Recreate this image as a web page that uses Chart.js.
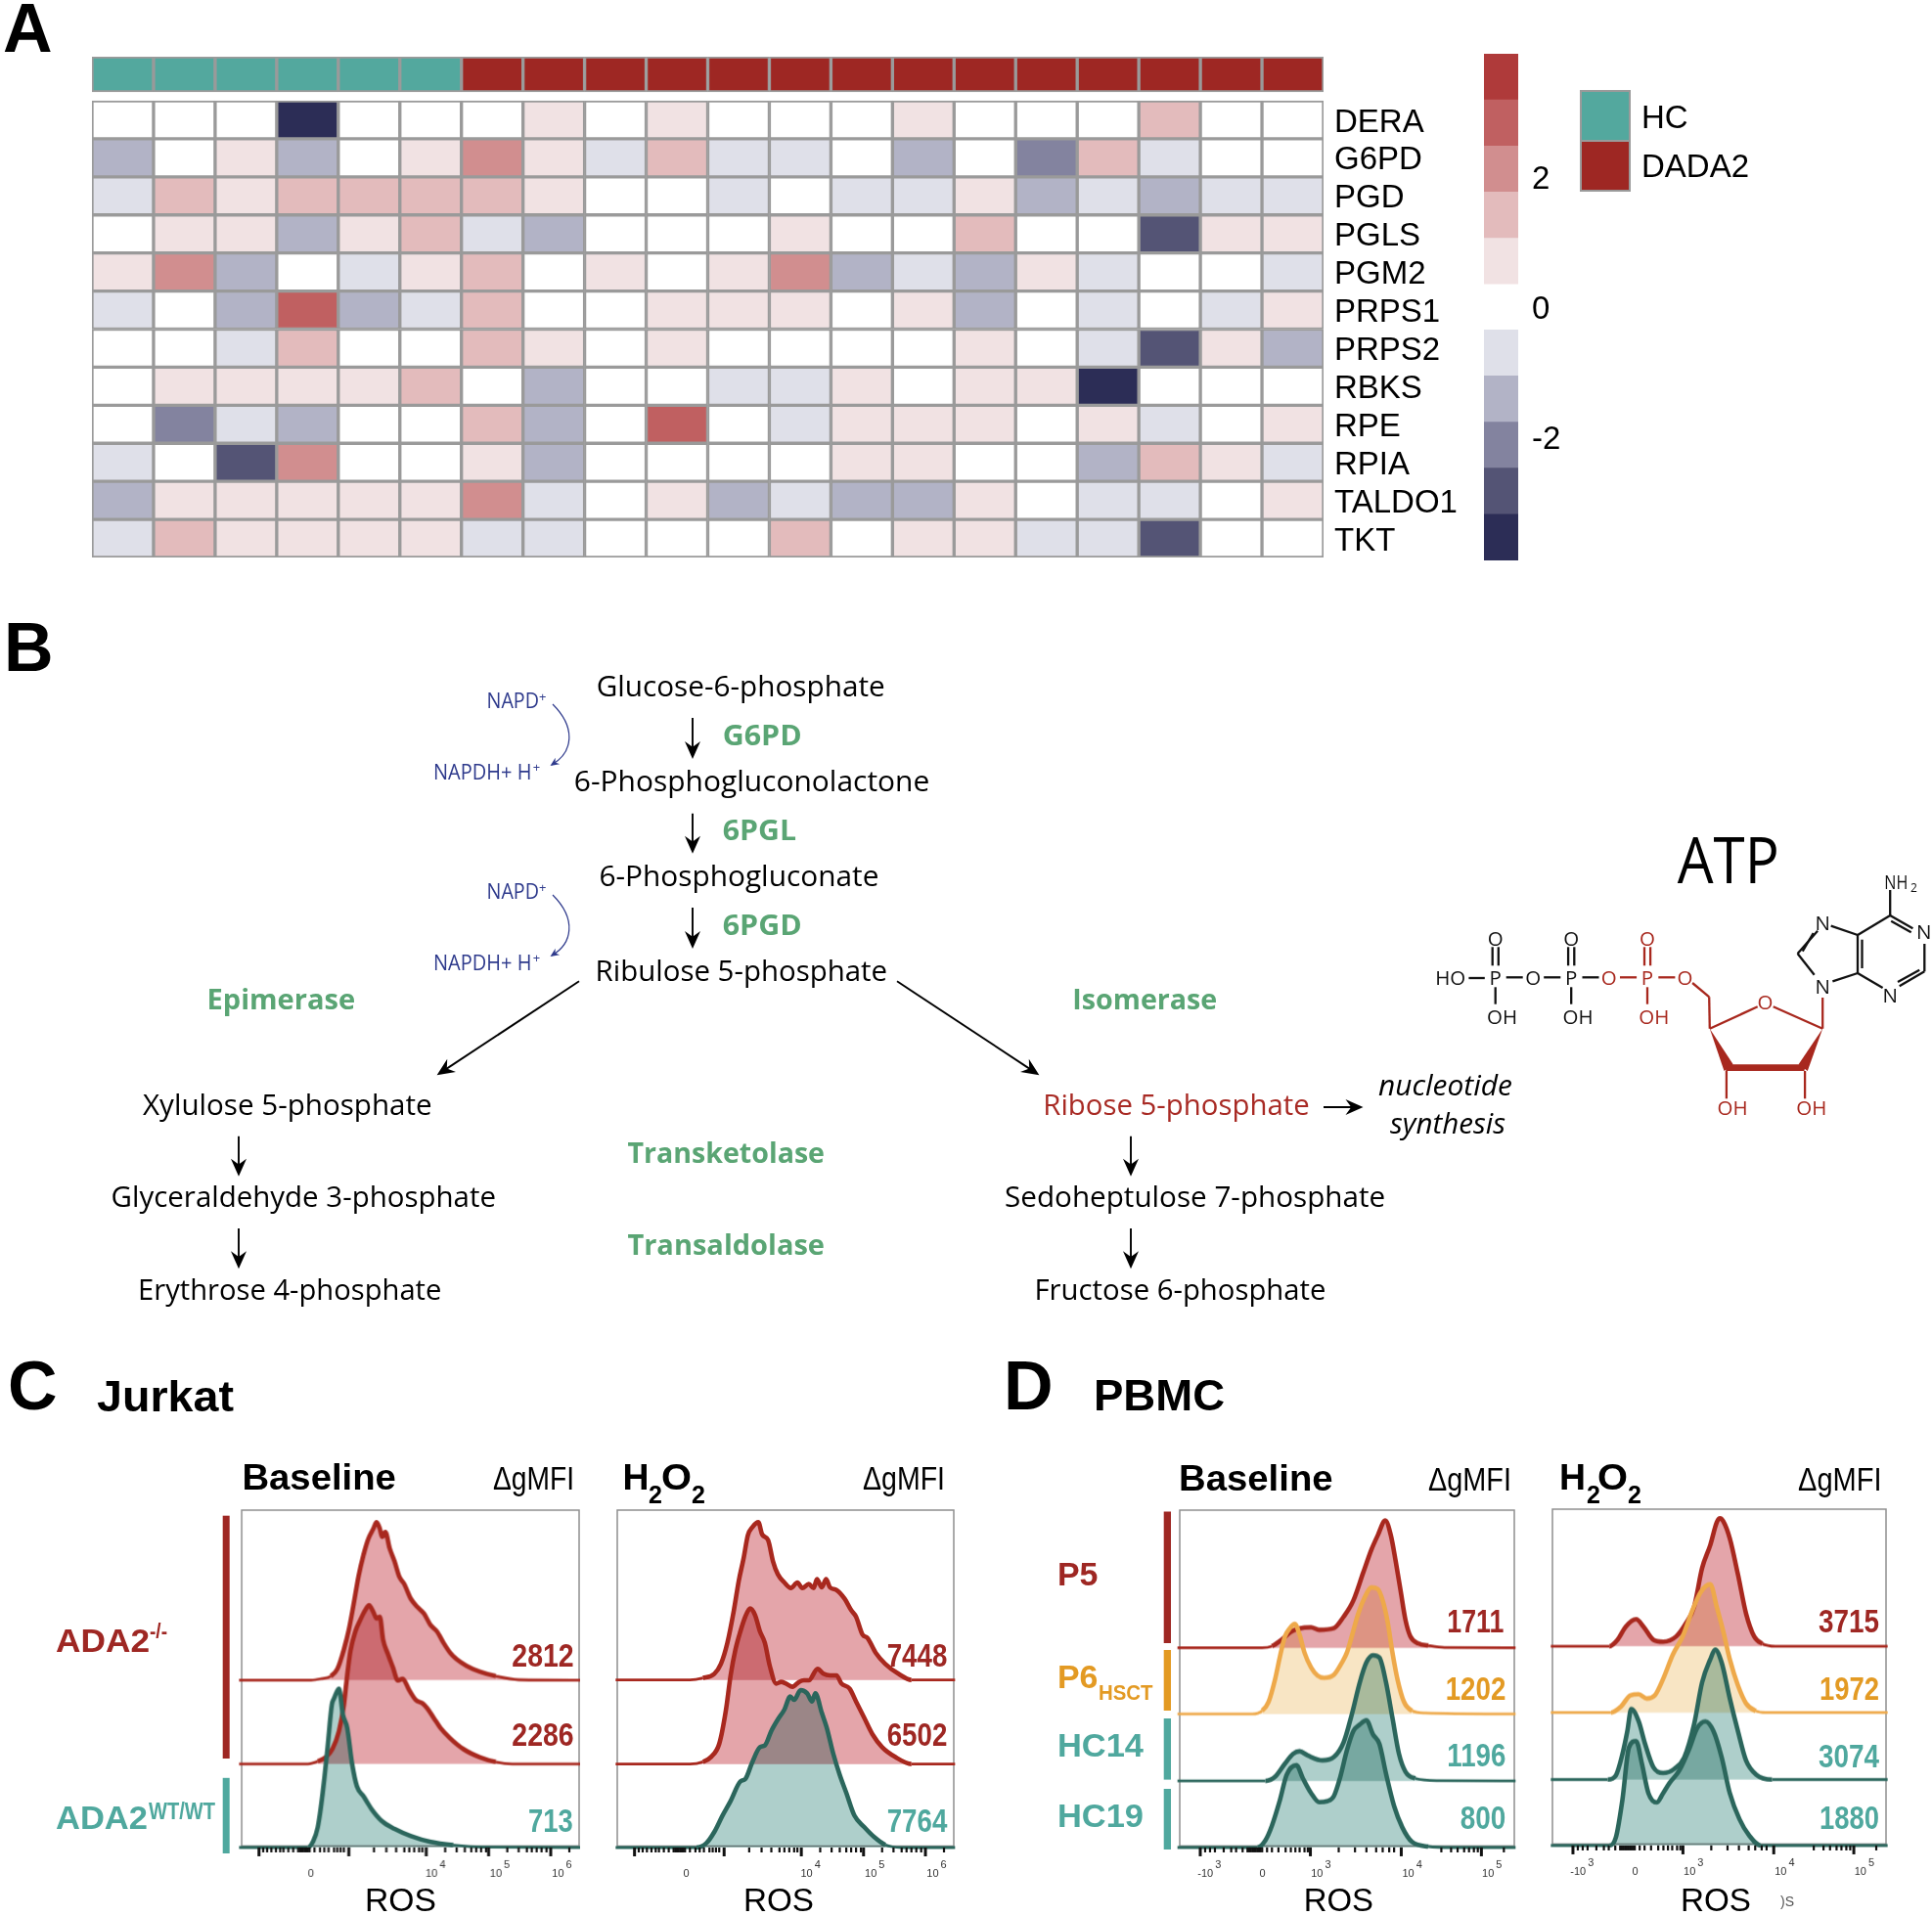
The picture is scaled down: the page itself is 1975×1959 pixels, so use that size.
<!DOCTYPE html>
<html>
<head>
<meta charset="utf-8">
<title>Pentose phosphate pathway in DADA2</title>
<script src="https://cdn.jsdelivr.net/npm/chart.js@4/dist/chart.umd.min.js"></script>
<style>
  html, body { margin:0; padding:0; background:#fff; }
  #page { position:relative; width:1975px; height:1959px; overflow:hidden; background:#fff; }
  #page canvas { position:absolute; }
  #overlay { position:absolute; left:0; top:0; pointer-events:none; }
</style>
</head>
<body>
<div id="page">
  <svg id="overlay" width="1975" height="1959" viewBox="0 0 1975 1959"></svg>
</div>
<script>
// Panel A: heatmap
const genes = ['DERA','G6PD','PGD','PGLS','PGM2','PRPS1','PRPS2','RBKS','RPE','RPIA','TALDO1','TKT'];
const samples = ['HC','HC','HC','HC','HC','HC','DADA2','DADA2','DADA2','DADA2','DADA2','DADA2','DADA2','DADA2','DADA2','DADA2','DADA2','DADA2','DADA2','DADA2'];
const rowDERA   = [ 0, 0, 0,-5, 0, 0, 0, 1, 0, 1, 0, 0, 0, 1, 0, 0, 0, 2, 0, 0];
const rowG6PD   = [-2, 0, 1,-2, 0, 1, 3, 1,-1, 2,-1,-1, 0,-2, 0,-3, 2,-1, 0, 0];
const rowPGD    = [-1, 2, 1, 2, 2, 2, 2, 1, 0, 0,-1, 0,-1,-1, 1,-2,-1,-2,-1,-1];
const rowPGLS   = [ 0, 1, 1,-2, 1, 2,-1,-2, 0, 0, 0, 1, 0, 0, 2, 0, 0,-4, 1, 1];
const rowPGM2   = [ 1, 3,-2, 0,-1, 1, 2, 0, 1, 0, 1, 3,-2,-1,-2, 1,-1, 0, 0,-1];
const rowPRPS1  = [-1, 0,-2, 4,-2,-1, 2, 0, 0, 1, 1, 1, 0, 1,-2, 0,-1, 0,-1, 1];
const rowPRPS2  = [ 0, 0,-1, 2, 0, 0, 2, 1, 0, 1, 0, 0, 0, 0, 1, 0,-1,-4, 1,-2];
const rowRBKS   = [ 0, 1, 1, 1, 1, 2, 0,-2, 0, 0,-1,-1, 1, 0, 1, 1,-5, 0, 0, 0];
const rowRPE    = [ 0,-3,-1,-2, 0, 0, 2,-2, 0, 4, 0,-1, 1, 1, 1, 0, 1,-1, 0, 1];
const rowRPIA   = [-1, 0,-4, 3, 0, 0, 1,-2, 0, 0, 0, 0, 1, 1, 0, 0,-2, 2, 1,-1];
const rowTALDO1 = [-2, 1, 1, 1, 1, 1, 3,-1, 0, 1,-2,-1,-2,-2, 1, 0,-1,-1, 0, 1];
const rowTKT    = [-1, 2, 1, 1, 1, 1,-1,-1, 0, 0, 0, 2, 0, 1, 1,-1,-1,-4, 0, 0];
const heatRows = [rowDERA,rowG6PD,rowPGD,rowPGLS,rowPGM2,rowPRPS1,rowPRPS2,rowRBKS,rowRPE,rowRPIA,rowTALDO1,rowTKT];
// bins from -5 (darkest blue) to +5 (darkest red)
const levelColors = ['#2C2D56','#545475','#83839F','#B2B3C6','#DFE0E9','#FFFFFF','#F1E2E3','#E3BBBC','#D18E8F','#C06061','#AF3A3A'];
const colorBreaks = [-3.9,-3.19,-2.48,-1.77,-1.06,-0.35,0.35,1.06,1.77,2.48,3.19,3.9];
const colorTicks = [-2,0,2];

// Panels C and D: histograms. X = display channel, Y = percent of mode
const cBase2812X = [14,235,265,295,315,335,350,365,380,395,410,425,435,445,452,462,475,490,505,520,540,560,580,600,620,640,660,680,710,750,800,870,1058];
const cBase2812Y = [0,0,0.8,2.4,6.8,18.8,30.8,46.8,63.8,76.8,86.8,92.8,96.8,92.8,87.8,90.8,80.8,72.8,63.2,58.8,49.8,44.8,40.8,33.8,29.8,22.8,16.8,12.8,8.8,5.2,2.4,0.2,0];
const cBase2286X = [14,225,255,280,300,320,335,345,355,370,385,400,412,425,435,445,455,470,485,500,515,535,555,575,590,610,630,660,700,750,800,850,1058];
const cBase2286Y = [0,0,1.6,4.2,9.2,20.2,36.2,54.2,69.2,81.2,88.2,94.2,97.2,93.2,89.2,90.2,76.2,67.2,59.2,51.2,52.2,45.2,39.2,37.2,34.2,28.2,22.2,15.8,9.2,4.2,1.2,0,0];
const cBase713X  = [14,225,240,255,270,285,298,305,320,332,345,360,375,395,420,450,490,540,600,670,760,1058];
const cBase713Y  = [0,0,3.4,12.4,33.4,61.4,87.4,91.4,97.4,81.4,73.4,51.4,37.4,31.4,23.4,16.4,11.4,7,3.4,1.4,0.2,0];

const cH2o27448X = [12,240,280,315,335,355,375,390,405,418,432,450,462,480,495,510,530,550,570,585,605,620,630,645,658,670,690,715,735,750,770,785,810,840,880,920,1054];
const cH2o27448Y = [0,0,1.2,3.8,9.8,22.8,42.8,60.8,74.8,88.8,93.8,96.8,89.2,85.8,72.8,64.8,59.8,56.4,59.8,56.4,58.8,56.4,61.8,56.8,61.8,56.8,55.2,49.8,42.8,38.8,27.8,25.8,16.8,9.8,3.8,0,0];
const cH2o26502X = [12,240,280,305,330,350,365,380,395,410,425,440,455,470,485,505,520,535,555,575,590,605,632,650,670,690,705,730,750,775,800,830,870,920,1054];
const cH2o26502Y = [0,0,1.4,4.4,12.4,32.4,54.4,70.4,81.4,90.4,95.4,91.4,81.4,74.4,60.4,49.4,50.4,49.4,47.4,50.4,51.4,51.4,58.4,55.4,54.4,54.4,49.4,46.4,38.4,28.4,18.4,10.4,4.4,0,0];
const cH2o27764X = [12,260,290,315,340,365,395,410,430,455,470,490,510,530,548,560,580,600,615,625,645,660,680,700,720,745,775,805,840,890,1054];
const cH2o27764Y = [0,0,2.6,9.6,19.6,28.6,40.6,42,51.6,61.6,62.6,71.6,78.6,84.6,92.6,90.6,96.6,94.6,89.6,94.6,82.6,73.6,57.6,44.6,33.6,19.6,12.6,6.6,1.6,0,0];

const dBase1711X = [10,270,300,330,360,400,420,445,490,520,550,580,605,625,648,665,680,695,710,725,750,780,830,1048];
const dBase1711Y = [0,0,1,5,10,12.4,12.6,11,12,19,29,46,60,69,78,69,53,35,17,7,2.6,1.4,0.2,0];
const dBase1202X = [10,240,270,290,310,325,340,355,370,385,400,420,440,460,490,515,530,545,565,585,605,625,640,655,670,685,705,730,770,1048];
const dBase1202Y = [0,0,2,7.6,21.6,35.6,47.6,52.6,55.2,48.6,37.6,28.6,23.6,22.2,24,31.6,37.6,47.6,61.6,71.6,77.6,76.6,69.6,56.6,37.6,21.6,7.6,2,0.6,0];
const dBase1196X = [10,280,310,340,365,385,410,455,490,520,545,570,590,610,630,650,670,690,710,740,810,1048];
const dBase1196Y = [0,0,2.6,10.6,16.6,18.2,15.6,12.6,14.6,23.6,40.6,60.6,72.6,77,75.6,60.6,38.6,16.6,5.6,1.6,0.2,0];
const dBase800X  = [10,255,280,300,325,345,375,395,420,445,470,490,510,530,550,570,590,610,630,650,675,700,730,780,850,1048];
const dBase800Y  = [0,0,4.4,13.4,29.4,44.4,50.4,42.4,33.4,27.8,28.4,31.4,43.4,59.4,71.4,75.4,78,69.4,63.4,45.4,25.4,12.4,3.4,0.6,0,0];

const dH2o23715X = [0,180,205,230,262,285,315,345,385,415,440,465,490,510,520,530,550,575,600,625,650,690,1035];
const dH2o23715Y = [0,0,4,12,16.6,12,4,2.8,6,14,24,48,62,76,78.4,76.5,66,44,20,6,1.6,0,0];
const dH2o21972X = [0,185,215,245,270,295,320,345,375,405,435,460,490,510,530,550,575,600,630,660,1035];
const dH2o21972Y = [0,0,3.6,10.6,11.2,8.6,10.6,20.6,35.6,46.6,62.6,73.6,78.6,64.6,49.6,32.6,16.6,5.6,1,0,0];
const dH2o23074X = [0,175,200,220,235,247,270,290,315,345,380,410,440,465,490,505,525,550,575,600,630,680,1035];
const dH2o23074Y = [0,0,2.6,15.6,29.6,43.2,35.6,21.6,7.6,4,6.6,13.6,33.6,59.6,73.6,79.6,71.6,49.6,29.6,11.6,3.2,0,0];
const dH2o21880X = [0,180,200,220,240,262,280,300,325,345,365,395,425,450,475,500,525,550,580,610,645,1035];
const dH2o21880Y = [0,0,5,28,60,64,50,32,26.4,32,38.4,46,59,72,76,70,54,32,16,6,0,0];

// Axis ticks, in the same display channels
const jurkatMajorTicks = [75,350,587,778,968];
const jurkatMinorTicks = [88,100,113,127,140,150,165,180,195,200,205,210,215,220,225,230,245,262,275,288,305,315,325,335,427,465,495,520,535,550,565,575,645,680,705,725,740,755,770,835,870,895,910,925,940,955,1025];
const jurkatLabelAt = [225,585,782,972];
const jurkatLabels = ['0','10','10','10'];
const jurkatExps = ['','4','5','6'];
const pbmcMajorTicks = [80,418,697,943];
const pbmcMinorTicks = [95,110,125,152,175,190,210,225,230,235,240,245,250,255,260,265,270,285,300,320,342,358,372,385,400,410,505,555,590,620,640,660,675,820,850,870,890,905,920,932,1012];
const pbmcLabelAt = [72,262,420,700,945];
const pbmcLabels = ['-10','0','10','10','10'];
const pbmcExps = ['3','','3','4','5'];

const RED='#A8281E', REDFILL='rgb(228,165,170)', ORANGE='#EEA94A', ORANGEFILL='rgb(248,229,196)', TEAL='#2B665C', TEALFILL='rgb(174,207,203)';
const REDTXT='#9E2723', TEALTXT='#4FA89E', ORANGETXT='#E39A23', GREEN='#5AA574', NAVY='#2E3A8C';
const HCCOL='#53A89E', DADACOL='#9E2723';
const SANS='"Liberation Sans"', MYR='"Open Sans"';
const page = document.getElementById('page');

function addCanvas(x,y,w,h){
  const c = document.createElement('canvas');
  c.width = w; c.height = h;
  c.style.left = x+'px'; c.style.top = y+'px';
  c.style.width = w+'px'; c.style.height = h+'px';
  page.insertBefore(c, document.getElementById('overlay'));
  return c;
}

// the tick labels must not push the plot area in
function fitAxis(s,w){
  s.width = w;
  s.paddingTop = 0; s.paddingBottom = 0; s.paddingLeft = 0; s.paddingRight = 0;
}

// Heatmap with its annotation strip on top
function drawHeatmap(){
  const rowH = (570-103)/12;
  const stripTop = -(103-58)/rowH, stripBottom = -(103-94)/rowH;
  const datasets = heatRows.map((row,r)=>({
    label: genes[r],
    data: row.map(()=>[r,r+1]),
    backgroundColor: row.map(v=>levelColors[v+5]),
    borderColor:'#9A9A9A', borderWidth:2, borderSkipped:false
  }));
  datasets.push({
    label:'group',
    data: samples.map(()=>[stripTop,stripBottom]),
    backgroundColor: samples.map(s=>s==='HC'?HCCOL:DADACOL),
    borderColor:'#9A9A9A', borderWidth:2, borderSkipped:false
  });
  new Chart(addCanvas(90,56,1420,516), {
    type:'bar',
    data:{ labels:samples.map((s,i)=>s+(i+1)), datasets },
    options:{
      responsive:false, animation:false, devicePixelRatio:1,
      layout:{ padding:{left:4,top:2,bottom:2,right:0} },
      plugins:{ legend:{display:false}, tooltip:{enabled:false} },
      datasets:{ bar:{ barPercentage:1, categoryPercentage:1, grouped:false } },
      scales:{
        x:{ display:false },
        y:{
          position:'right', reverse:true, min:stripTop, max:12,
          afterBuildTicks:s=>{ s.ticks = genes.map((g,i)=>({value:i+0.5})); },
          afterFit:s=>fitAxis(s,157),
          grid:{display:false,drawTicks:false}, border:{display:false},
          ticks:{ autoSkip:false, padding:11, labelOffset:3, color:'#000', font:{family:SANS,size:33}, callback:v=>genes[Math.floor(v)] }
        }
      }
    }
  });
}

function drawColorbar(){
  const datasets = levelColors.map((col,i)=>({ data:[[colorBreaks[i],colorBreaks[i+1]]], backgroundColor:col, borderWidth:0 }));
  new Chart(addCanvas(1517,55,110,518), {
    type:'bar',
    data:{ labels:['scale'], datasets },
    options:{
      responsive:false, animation:false, devicePixelRatio:1,
      plugins:{ legend:{display:false}, tooltip:{enabled:false} },
      datasets:{ bar:{ barPercentage:1, categoryPercentage:1, grouped:false } },
      scales:{
        x:{ display:false },
        y:{
          position:'right', min:colorBreaks[0], max:colorBreaks[11],
          afterBuildTicks:s=>{ s.ticks = colorTicks.map(v=>({value:v})); },
          afterFit:s=>fitAxis(s,75),
          grid:{display:false,drawTicks:false}, border:{display:false},
          ticks:{ padding:14, labelOffset:3, color:'#000', font:{family:SANS,size:33}, callback:v=>String(v) }
        }
      }
    }
  });
}

// Grey frame plus hand-made flow axis; fills are multiplied so overlaps darken
const flowPlugin = {
  id:'flow',
  beforeDraw(chart, args, opts){
    const ctx = chart.ctx, a = chart.chartArea;
    ctx.save();
    ctx.strokeStyle = '#8E8E8E'; ctx.lineWidth = 1.5;
    ctx.strokeRect(a.left, a.top, a.right-a.left, a.bottom-a.top-1.5);
    ctx.restore();
    ctx.globalCompositeOperation = 'multiply';
  },
  beforeDatasetsDraw(chart){ chart.ctx.globalCompositeOperation = 'source-over'; },
  afterDraw(chart, args, opts){
    const ctx = chart.ctx, sx = chart.scales.x, y0 = chart.scales.y.getPixelForValue(0);
    ctx.save();
    ctx.strokeStyle = '#111';
    ctx.lineWidth = 2.2;
    opts.minor.forEach(t=>{ const x = sx.getPixelForValue(t+opts.shift); ctx.beginPath(); ctx.moveTo(x,y0); ctx.lineTo(x,y0+5); ctx.stroke(); });
    ctx.lineWidth = 3;
    opts.major.forEach(t=>{ const x = sx.getPixelForValue(t+opts.shift); ctx.beginPath(); ctx.moveTo(x,y0); ctx.lineTo(x,y0+9); ctx.stroke(); });
    ctx.fillStyle = '#333'; ctx.font = '11px '+SANS; ctx.textAlign = 'left'; ctx.textBaseline = 'alphabetic';
    opts.labels.forEach((txt,i)=>{
      const x = sx.getPixelForValue(opts.labelAt[i]+opts.shift);
      ctx.fillText(txt, x, y0+30);
      if(opts.exps[i]) ctx.fillText(opts.exps[i], x+ctx.measureText(txt).width+2, y0+21);
    });
    ctx.restore();
  }
};

function drawHistogram(p){
  const unit = 5/3;  // px per percent of mode
  const mx = 8, mb = 50;
  const w = p.right-p.left, h = p.yMax*unit;
  const datasets = p.curves.map((c,i)=>({
    data: c.x.map((x,j)=>({x, y:c.y[j]+c.off})),
    showLine:true, pointRadius:0, clip:false,
    borderColor:c.line, backgroundColor:c.fill,
    fill:{value:c.off},
    cubicInterpolationMode:'monotone', borderWidth:4.6, borderJoinStyle:'round',
    segment:{ borderWidth:ctx=> (ctx.p0.parsed.y-c.off<2.5 && ctx.p1.parsed.y-c.off<2.5) ? 2.8 : 4.6 },
    order:p.curves.length-i
  }));
  new Chart(addCanvas(p.left-mx, p.top-2, w+mx*2, h+2+mb), {
    type:'scatter',
    data:{ datasets },
    plugins:[flowPlugin],
    options:{
      responsive:false, animation:false, devicePixelRatio:1,
      layout:{ padding:{left:mx,right:mx,top:2,bottom:mb} },
      plugins:{
        legend:{display:false}, tooltip:{enabled:false},
        filler:{ drawTime:'beforeDatasetsDraw', propagate:false },
        flow:{ major:p.major, minor:p.minor, labelAt:p.labelAt, labels:p.labels, exps:p.exps, shift:p.shift }
      },
      scales:{
        x:{ type:'linear', display:false, min:p.xMin, max:p.xMax },
        y:{ type:'linear', display:false, min:0, max:p.yMax }
      }
    }
  });
}

const jurkatAxis = { major:jurkatMajorTicks, minor:jurkatMinorTicks, labelAt:jurkatLabelAt, labels:jurkatLabels, exps:jurkatExps };
const pbmcAxis = { major:pbmcMajorTicks, minor:pbmcMinorTicks, labelAt:pbmcLabelAt, labels:pbmcLabels, exps:pbmcExps };

function drawHistograms(){
  drawHistogram({ ...jurkatAxis, shift:0, left:247.3, right:591.7, top:1544.3, xMin:22, xMax:1055, yMax:206.8, curves:[
    {x:cBase2812X,y:cBase2812Y,off:102.6,line:RED,fill:REDFILL},
    {x:cBase2286X,y:cBase2286Y,off:51.2,line:RED,fill:REDFILL},
    {x:cBase713X,y:cBase713Y,off:0,line:TEAL,fill:TEALFILL}
  ]});
  drawHistogram({ ...jurkatAxis, shift:-5, left:630.7, right:975, top:1544.3, xMin:17, xMax:1050, yMax:207, curves:[
    {x:cH2o27448X,y:cH2o27448Y,off:102.8,line:RED,fill:REDFILL},
    {x:cH2o26502X,y:cH2o26502Y,off:51.2,line:RED,fill:REDFILL},
    {x:cH2o27764X,y:cH2o27764Y,off:0,line:TEAL,fill:TEALFILL}
  ]});
  drawHistogram({ ...pbmcAxis, shift:0, left:1205.7, right:1548, top:1544.3, xMin:17, xMax:1044, yMax:206.8, curves:[
    {x:dBase1711X,y:dBase1711Y,off:122.4,line:RED,fill:REDFILL},
    {x:dBase1202X,y:dBase1202Y,off:81.8,line:ORANGE,fill:ORANGEFILL},
    {x:dBase1196X,y:dBase1196Y,off:40.8,line:TEAL,fill:TEALFILL},
    {x:dBase800X,y:dBase800Y,off:0,line:TEAL,fill:TEALFILL}
  ]});
  drawHistogram({ ...pbmcAxis, shift:-12, left:1586.7, right:1928.3, top:1543.3, xMin:5, xMax:1030, yMax:206, curves:[
    {x:dH2o23715X,y:dH2o23715Y,off:122,line:RED,fill:REDFILL},
    {x:dH2o21972X,y:dH2o21972Y,off:81.4,line:ORANGE,fill:ORANGEFILL},
    {x:dH2o23074X,y:dH2o23074Y,off:40.4,line:TEAL,fill:TEALFILL},
    {x:dH2o21880X,y:dH2o21880Y,off:0,line:TEAL,fill:TEALFILL}
  ]});
}

// Everything that is not a chart goes in the svg overlay
let svg = '';
function T(text,x,y,size,opt={}){
  const len = opt.w ? ` textLength="${opt.w}" lengthAdjust="spacingAndGlyphs"` : '';
  svg += `<text x="${x}" y="${y}" font-family='${opt.f||SANS}' font-size="${size}" font-weight="${opt.b?700:400}" font-style="${opt.i?'italic':'normal'}" fill="${opt.c||'#000'}" text-anchor="${opt.a||'start'}"${len}>${text}</text>`;
}
function L(x1,y1,x2,y2,col,w){ svg += `<line x1="${x1}" y1="${y1}" x2="${x2}" y2="${y2}" stroke="${col}" stroke-width="${w}"/>`; }
function R(x,y,w,h,col,stroke){ svg += `<rect x="${x}" y="${y}" width="${w}" height="${h}" fill="${col}"${stroke?` stroke="${stroke}" stroke-width="2"`:''}/>`; }
function head(x,y,ang,len,half,col){
  const c=Math.cos(ang), s=Math.sin(ang);
  const px=(a,b)=>`${(x+a*c-b*s).toFixed(1)},${(y+a*s+b*c).toFixed(1)}`;
  svg += `<polygon points="${px(0,0)} ${px(-len,half)} ${px(-len*0.68,0)} ${px(-len,-half)}" fill="${col}"/>`;
}
function arrow(x1,y1,x2,y2){
  const a=Math.atan2(y2-y1,x2-x1);
  L(x1,y1,x2-8*Math.cos(a),y2-8*Math.sin(a),'#000',1.9);
  head(x2,y2,a,18,8,'#000');
}

function drawPanelLabels(){
  T('A',3,53,70,{b:1}); T('B',4,686,70,{b:1}); T('C',8,1441,70,{b:1}); T('D',1026,1441,70,{b:1});
  // legend of panel A
  R(1616,93,50,51,HCCOL,'#9A9A9A'); R(1616,144,50,51,DADACOL,'#9A9A9A');
  T('HC',1678,131,33); T('DADA2',1678,180.6,33);
}

function drawPathway(){
  const name=(t,x,y,w,c)=>T(t,x,y,30,{f:MYR,w,c});
  name('Glucose-6-phosphate',609.7,711.7,295);
  name('6-Phosphogluconolactone',586.8,809,363.5);
  name('6-Phosphogluconate',612.4,906,286);
  name('Ribulose 5-phosphate',608.6,1003,298.5);
  name('Xylulose 5-phosphate',146,1140,295.7);
  name('Glyceraldehyde 3-phosphate',113.6,1234.3,393.4);
  name('Erythrose 4-phosphate',141,1329,310.4);
  name('Ribose 5-phosphate',1066.3,1140,272.4,'#A82A24');
  name('Sedoheptulose 7-phosphate',1027,1234.3,389.2);
  name('Fructose 6-phosphate',1057.5,1329,298);
  T('nucleotide',1409,1120,30,{f:MYR,i:1,w:137});
  T('synthesis',1421,1159,30,{f:MYR,i:1,w:118});
  const en=(t,x,y,w)=>T(t,x,y,29,{f:MYR,b:1,c:GREEN,w});
  en('G6PD',738.7,761.7,81); en('6PGL',738.7,859,75.3); en('6PGD',738.7,956,81);
  en('Epimerase',211.5,1031.7,151.7); en('Isomerase',1096.3,1032.3,148);
  en('Transketolase',641.4,1189,201.6); en('Transaldolase',641.4,1283.3,201.6);
  [0,195].forEach(dy=>{
    T('NAPD',497.6,724.3+dy,21,{f:MYR,c:NAVY,w:53.4});
    T('+',551,717+dy,13,{f:MYR,c:NAVY});
    T('NAPDH+ H',443,796.7+dy,21,{f:MYR,c:NAVY,w:100.5});
    T('+',544.7,789+dy,13,{f:MYR,c:NAVY});
    svg += `<path d="M565,720 C${590},${745} ${585},${770} 564,${782}" transform="translate(0,${dy})" fill="none" stroke="${NAVY}" stroke-width="1.2"/>`;
    head(562.5,783+dy,2.55,9,4,NAVY);
  });
  arrow(708,734,708,776); arrow(708,831.7,708,872.7); arrow(708,928,708,970);
  arrow(592,1003.3,446.6,1099.3); arrow(917,1003.3,1062.4,1099.3);
  arrow(244,1161.7,244,1202.7); arrow(244,1256,244,1297.3);
  arrow(1156,1161.7,1156,1202.7); arrow(1156,1256,1156,1297.3);
  arrow(1353,1132,1393.5,1132);
}

function drawATP(){
  const X=v=>+(1440+v/2.93).toFixed(1), Y=v=>+(830+v/3).toFixed(1);
  const BLK='#111', RD='#A8281E';
  const bond=(a,b,c,d,col,w=2.3)=>L(X(a),Y(b),X(c),Y(d),col,w);
  const atom=(t,x,y,col)=>T(t,X(x),Y(y)+7.5,20.5,{f:MYR,c:col,a:'middle'});
  T('ATP',1714.7,903.3,65,{f:MYR,w:104});
  [[260,BLK],[487,BLK],[715,RD]].forEach(([x,c])=>{
    atom('P',x,507,c); atom('O',x,388,c); atom('OH',x+20,628,c);
    bond(x-9,415,x-9,472,c); bond(x+9,415,x+9,472,c); bond(x,538,x,590,c);
  });
  atom('HO',125,507,BLK); atom('O',373,507,BLK); atom('O',600,507,RD); atom('O',828,507,RD);
  bond(180,510,228,510,BLK); bond(292,508,342,508,BLK); bond(405,508,455,508,BLK); bond(520,508,570,508,BLK);
  bond(633,508,683,508,RD); bond(748,508,798,508,RD);
  // ribose
  bond(850,525,900,568,RD); bond(900,568,902,665,RD); bond(902,665,1045,598,RD); bond(1092,598,1240,665,RD); bond(1240,665,1240,570,RD);
  bond(952,795,952,880,RD); bond(1187,795,1187,880,RD);
  atom('O',1068,582,RD); atom('OH',970,908,RD); atom('OH',1207,908,RD);
  const pts=a=>a.map(p=>X(p[0])+','+Y(p[1])).join(' ');
  svg += `<polygon points="${pts([[902,665],[945,795],[972,775]])}" fill="${RD}"/>`;
  svg += `<polygon points="${pts([[950,775],[1190,775],[1185,795],[950,795]])}" fill="${RD}"/>`;
  svg += `<polygon points="${pts([[1240,665],[1168,775],[1195,795]])}" fill="${RD}"/>`;
  // adenine
  atom('N',1240,535,BLK); atom('N',1240,340,BLK); atom('N',1442,562,BLK); atom('N',1543,368,BLK);
  T('NH',X(1425),Y(215)+7.5,20.5,{f:MYR,c:BLK,w:24}); T('2',X(1503),Y(232)+5,12,{f:MYR,c:BLK});
  bond(1270,520,1345,495,BLK); bond(1345,495,1345,378,BLK); bond(1358,480,1358,392,BLK); bond(1345,378,1265,350,BLK);
  bond(1225,365,1165,435,BLK); bond(1212,372,1180,428,BLK); bond(1165,435,1215,500,BLK);
  bond(1345,378,1442,318,BLK); bond(1442,318,1442,240,BLK); bond(1442,318,1510,358,BLK); bond(1445,335,1505,370,BLK);
  bond(1545,405,1545,490,BLK); bond(1545,490,1470,535,BLK); bond(1530,485,1465,522,BLK); bond(1345,495,1420,540,BLK);
}

function drawHistogramText(){
  const num=(t,x,y,w,c)=>T(t,x,y,34,{b:1,c,w});
  num('2812',523.3,1704,63.4,REDTXT); num('2286',523.3,1785,63.4,REDTXT); num('713',540,1873.3,45.7,TEALTXT);
  num('7448',906.7,1704,61.6,REDTXT); num('6502',906.7,1785,61.6,REDTXT); num('7764',906.7,1873.3,61.6,TEALTXT);
  num('1711',1479.3,1669,58,REDTXT); num('1202',1477.7,1737.7,61.6,ORANGETXT); num('1196',1479.3,1806,60,TEALTXT); num('800',1492.7,1870,46.6,TEALTXT);
  num('3715',1859,1669,62,REDTXT); num('1972',1860,1738.3,61,ORANGETXT); num('3074',1859,1806.7,62,TEALTXT); num('1880',1860,1870,61,TEALTXT);

  T('Jurkat',99,1443,45,{b:1,w:140}); T('PBMC',1118,1442,45,{b:1,w:134});
  T('Baseline',247.4,1523,37,{b:1,w:157.5}); T('Baseline',1205,1523.7,37,{b:1,w:157.6});
  [[636.5,663,676,707,1523],[1594,1622,1633,1664,1523]].forEach(([h,s1,o,s2,y])=>{
    T('H',h,y,37,{b:1,w:27}); T('2',s1,y+14,25,{b:1}); T('O',o,y,37,{b:1,w:31}); T('2',s2,y+14,25,{b:1});
  });
  T('ΔgMFI',504,1523,33,{w:83}); T('ΔgMFI',882,1523,33,{w:84}); T('ΔgMFI',1460,1523.7,33,{w:85}); T('ΔgMFI',1838,1523.7,33,{w:85.5});
  T('ROS',373,1954,33,{w:73}); T('ROS',760,1954,33,{w:72}); T('ROS',1332.7,1954,33,{w:71.3}); T('ROS',1718,1954,33,{w:72});
  T(')S',1820,1949,14,{c:'#555'});

  // side bars and sample names
  R(227.7,1549.7,7,248.3,REDTXT); R(227.7,1817.8,7,77.2,TEALTXT);
  R(1189.7,1545.5,7.3,134.5,REDTXT); R(1189.7,1687,7.3,62,ORANGETXT); R(1189.7,1757,7.3,62.6,TEALTXT); R(1189.7,1829,7.3,62,TEALTXT);
  T('ADA2',57,1689,33,{b:1,c:REDTXT,w:96}); T('-/-',153,1674.5,22,{b:1,c:REDTXT,w:18});
  T('ADA2',57,1870,33,{b:1,c:TEALTXT,w:94}); T('WT/WT',152,1860,24,{b:1,c:TEALTXT,w:68});
  T('P5',1081,1621,33,{b:1,c:REDTXT,w:41.5}); T('P6',1081,1726,33,{b:1,c:ORANGETXT,w:41.5}); T('HSCT',1123,1738,22,{b:1,c:ORANGETXT,w:55.5});
  T('HC14',1081,1796.4,33,{b:1,c:TEALTXT,w:88}); T('HC19',1081,1868,33,{b:1,c:TEALTXT,w:88});
}

drawHeatmap();
drawColorbar();
drawHistograms();
drawPanelLabels();
drawPathway();
drawATP();
drawHistogramText();
document.getElementById('overlay').innerHTML = svg;
</script>
</body>
</html>
